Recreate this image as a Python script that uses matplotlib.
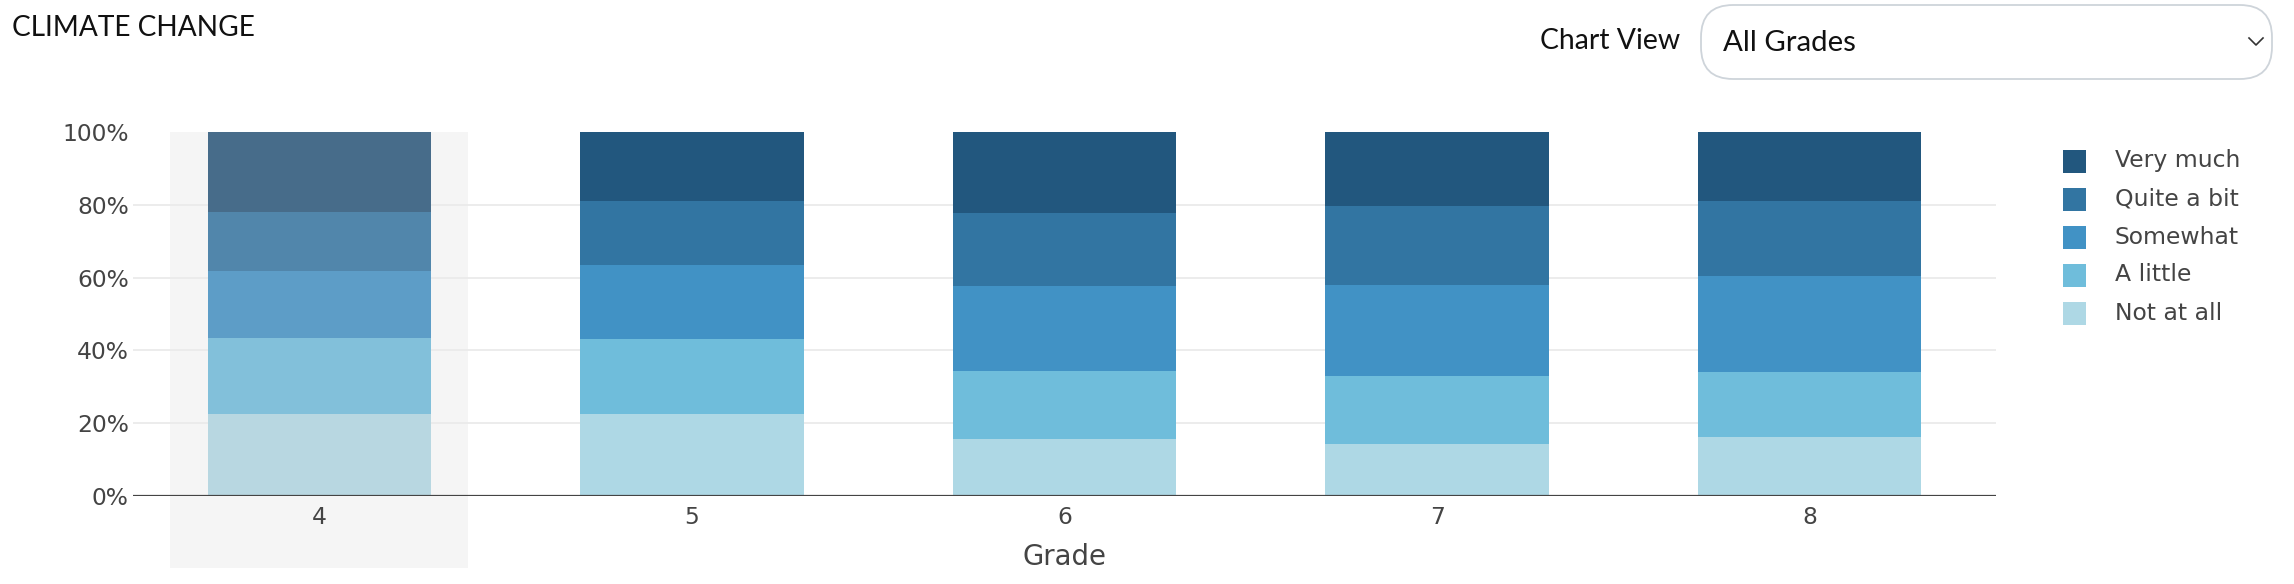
import matplotlib
matplotlib.use("Agg")
import matplotlib.pyplot as plt
from matplotlib.patches import Rectangle, FancyBboxPatch
from matplotlib.lines import Line2D
import numpy as np

# ---------------- data ----------------
title = "CLIMATE CHANGE"
grades = ["4", "5", "6", "7", "8"]
highlight_grade = "4"
series_labels = ["Not at all", "A little", "Somewhat", "Quite a bit", "Very much"]
not_at_all = [22.5, 22.5, 15.6, 14.2, 16.1]
a_little = [20.9, 20.6, 18.7, 18.7, 17.9]
somewhat = [18.4, 20.3, 23.4, 25.0, 26.4]
quite_a_bit = [16.2, 17.6, 20.0, 21.8, 20.6]
very_much = [22.0, 19.0, 22.3, 20.3, 19.0]
series_values = [not_at_all, a_little, somewhat, quite_a_bit, very_much]
colors = ["#AED8E5", "#6FBDDB", "#4192C5", "#3275A2", "#22577E"]
muted_colors = ["#B8D7E1", "#82C0DA", "#5D9DC7", "#5186AB", "#476C8A"]
yticks = [0, 20, 40, 60, 80, 100]

# ---------------- figure ----------------
W, H = 2294, 584
DPI = 100
fig = plt.figure(figsize=(W / DPI, H / DPI), dpi=DPI, facecolor="white")

L, R, T, B = 133, 1996, 132, 496
ax = fig.add_axes([L / W, 1 - B / H, (R - L) / W, (B - T) / H])
ax.set_facecolor("none")

x = np.arange(len(grades))
ax.set_xlim(-0.5, len(grades) - 0.5)
ax.set_ylim(0, 100)

# highlight band behind grade 4
hi = grades.index(highlight_grade)
band_bottom = -0.198 * 100
ax.add_patch(Rectangle((hi - 0.4, band_bottom), 0.8, 100 - band_bottom,
                       facecolor="#F5F5F5", edgecolor="none", zorder=0, clip_on=False))

bottom = np.zeros(len(grades))
for vals, c, mc, lab in zip(series_values, colors, muted_colors, series_labels):
    bar_colors = [mc if g == highlight_grade else c for g in grades]
    ax.bar(x, vals, width=0.6, bottom=bottom, color=bar_colors, edgecolor="none",
           zorder=2, label=lab)
    bottom += np.array(vals)

# grid
for yv in yticks[1:-1]:
    ax.axhline(yv, color="#EBEBEB", lw=1.3, zorder=1)
ax.axhline(0, color="#444444", lw=1.6, zorder=3)

for s in ax.spines.values():
    s.set_visible(False)

ax.set_yticks(yticks)
ax.set_yticklabels([f"{v}%" for v in yticks])
ax.set_xticks(x)
ax.set_xticklabels(grades)
ax.tick_params(axis="both", length=0, labelsize=16.8, labelcolor="#444444")
ax.tick_params(axis="y", pad=3)
ax.tick_params(axis="x", pad=7)
ax.set_xlabel("Grade", fontsize=19.8, color="#444444", labelpad=10)

# ---------------- legend (manual) ----------------
leg_x0 = 2063
leg_y0 = 161
leg_dy = 38
sq = 23
for i, (lab, c) in enumerate(zip(series_labels[::-1], colors[::-1])):
    cy = leg_y0 + i * leg_dy
    fig.patches.append(Rectangle(((leg_x0) / W, 1 - (cy + sq / 2) / H), sq / W, sq / H,
                                 transform=fig.transFigure, facecolor=c, edgecolor="none"))
    fig.text(2115 / W, 1 - cy / H, lab, fontsize=16.9, color="#444444",
             va="center", ha="left", family="DejaVu Sans")

# ---------------- title & dropdown ----------------
fig.text(12 / W, 1 - 28 / H, title, fontsize=20.2, color="#111111", family="Lato",
         va="center", ha="left")
fig.text(1540 / W, 1 - 41 / H, "Chart View", fontsize=20.4, color="#111111", family="Lato",
         va="center", ha="left")
box = FancyBboxPatch((1701 / W, 1 - 79 / H), (2272 - 1701) / W, (79 - 5) / H,
                     boxstyle="round,pad=0,rounding_size=0.014", transform=fig.transFigure,
                     facecolor="white", edgecolor="#CED4DA", lw=1.3,
                     mutation_aspect=W / H)
fig.patches.append(box)
fig.text(1723 / W, 1 - 43 / H, "All Grades", fontsize=21.2, color="#111111", family="Lato",
         va="center", ha="left")
fig.lines.append(Line2D([2249 / W, 2256 / W, 2263 / W],
                        [1 - 38 / H, 1 - 45 / H, 1 - 38 / H],
                        transform=fig.transFigure, color="#333333", lw=1.2))

fig.savefig("out.png", dpi=DPI, facecolor="white")
